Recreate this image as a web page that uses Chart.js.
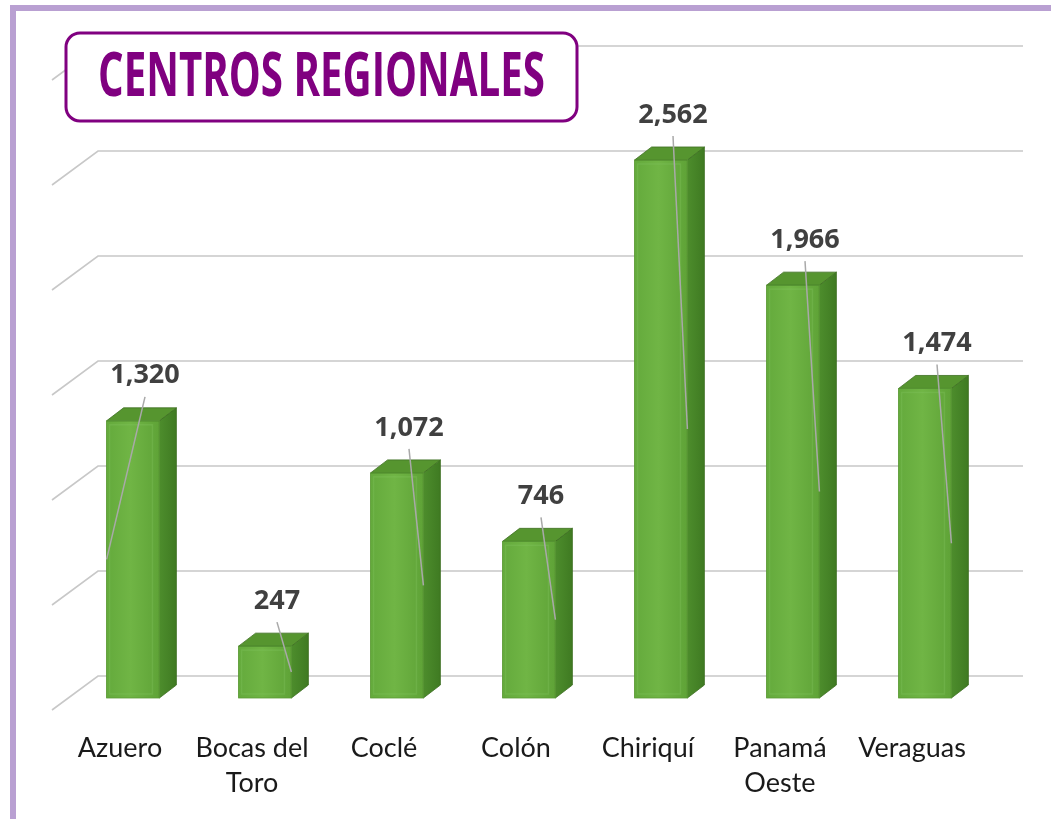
<!DOCTYPE html>
<html>
<head>
<meta charset="utf-8">
<script src="https://cdn.jsdelivr.net/npm/chart.js@4.4.1/dist/chart.umd.min.js"></script>
<style>
  html, body { margin: 0; padding: 0; background: #fff; }
  #wrap { position: relative; width: 1051px; height: 819px; overflow: hidden; }
  #frameL { position: absolute; left: 10px; top: 5px; width: 6px; height: 814px; background: #b9a0d2; }
  #frameT { position: absolute; left: 10px; top: 5px; width: 1041px; height: 6px; background: #b9a0d2; }
  canvas { position: absolute; left: 0; top: 0; }
</style>
</head>
<body>
<div id="wrap">
  <canvas id="c" width="1051" height="819"></canvas>
  <div id="frameL"></div>
  <div id="frameT"></div>
</div>
<script>
const categories = ["Azuero", ["Bocas del", "Toro"], "Coclé", "Colón", "Chiriquí", ["Panamá", "Oeste"], "Veraguas"];
const values = [1320, 247, 1072, 746, 2562, 1966, 1474];
const gridTicks = [0, 500, 1000, 1500, 2000, 2500, 3000];
const titleText = "CENTROS REGIONALES";

const DX = 17, DY = 13;

const threeD = {
  id: 'threeD',
  beforeDatasetsDraw(chart) {
    const ctx = chart.ctx, y = chart.scales.y, a = chart.chartArea;
    ctx.save();
    gridTicks.forEach(v => {
      const yf = y.getPixelForValue(v);
      const yb = yf - 22;
      ctx.strokeStyle = '#c8c8c8';
      ctx.lineWidth = 1.6;
      ctx.beginPath();
      ctx.moveTo(a.left - 15, yf + 12);
      ctx.lineTo(a.left + 31, yb);
      ctx.lineTo(a.right + 32, yb);
      ctx.stroke();
    });
    ctx.restore();
  },
  afterDatasetsDraw(chart) {
    const ctx = chart.ctx;
    const meta = chart.getDatasetMeta(0);
    const yS = chart.scales.y;
    ctx.save();
    meta.data.forEach((bar, i) => {
      const w = bar.width, l = bar.x - w / 2, r = bar.x + w / 2, t = bar.y, b = bar.base;
      const fg = ctx.createLinearGradient(l, 0, r, 0);
      fg.addColorStop(0, '#64aa3c'); fg.addColorStop(0.45, '#70b545'); fg.addColorStop(1, '#5fa337');
      ctx.fillStyle = fg;
      ctx.fillRect(l, t, w, b - t);
      const sg = ctx.createLinearGradient(r, 0, r + DX, 0);
      sg.addColorStop(0, '#4d8d2c'); sg.addColorStop(1, '#3f7a22');
      ctx.fillStyle = sg;
      ctx.beginPath();
      ctx.moveTo(r, t); ctx.lineTo(r + DX, t - DY); ctx.lineTo(r + DX, b - DY); ctx.lineTo(r, b); ctx.closePath();
      ctx.fill();
      ctx.strokeStyle = '#3e6f22'; ctx.lineWidth = 0.8; ctx.stroke();
      ctx.fillStyle = '#56952f';
      ctx.beginPath();
      ctx.moveTo(l, t); ctx.lineTo(l + DX, t - DY); ctx.lineTo(r + DX, t - DY); ctx.lineTo(r, t); ctx.closePath();
      ctx.fill();
      ctx.stroke();
      ctx.strokeStyle = 'rgba(130,195,95,0.35)';
      ctx.lineWidth = 1.5;
      ctx.strokeRect(l + 3, t + 4, w - 10, Math.max(0, b - t - 8));
      ctx.strokeStyle = '#5a9a35'; ctx.lineWidth = 0.8;
      ctx.strokeRect(l, t, w, b - t);
    });
    meta.data.forEach((bar, i) => {
      const w = bar.width;
      const lx = bar.x + 12;
      const ly = bar.y - 45;
      const endY = yS.getPixelForValue(values[i] / 2);
      const endX = i === 0 ? bar.x - w / 2 : bar.x + w / 2;
      ctx.strokeStyle = '#a9a9a9'; ctx.lineWidth = 1.5;
      ctx.beginPath(); ctx.moveTo(lx, ly + 21); ctx.lineTo(endX, endY); ctx.stroke();
      ctx.fillStyle = '#404040';
      ctx.font = 'bold 27px "Open Sans"';
      ctx.textAlign = 'center'; ctx.textBaseline = 'middle';
      ctx.fillText(values[i].toLocaleString('en-US'), lx, ly);
    });
    ctx.restore();
  },
  afterDraw(chart) {
    const ctx = chart.ctx;
    ctx.save();
    const x0 = 66, y0 = 33, x1 = 577, y1 = 121, rad = 14;
    ctx.beginPath();
    ctx.roundRect(x0, y0, x1 - x0, y1 - y0, rad);
    ctx.fillStyle = '#fff'; ctx.fill();
    ctx.strokeStyle = '#800080'; ctx.lineWidth = 3; ctx.stroke();
    ctx.font = 'bold 60px "Open Sans"';
    const m = ctx.measureText(titleText).width;
    const target = 447;
    ctx.translate((x0 + x1) / 2, 79);
    ctx.scale(target / m, 1);
    ctx.fillStyle = '#800080';
    ctx.textAlign = 'center'; ctx.textBaseline = 'middle';
    ctx.fillText(titleText, 0, 0);
    ctx.restore();
  }
};

new Chart(document.getElementById('c'), {
  type: 'bar',
  data: {
    labels: categories,
    datasets: [{
      data: values,
      backgroundColor: '#6aae3f',
      borderWidth: 0,
      barPercentage: 0.4,
      categoryPercentage: 1
    }]
  },
  options: {
    responsive: false,
    animation: false,
    devicePixelRatio: 1,
    layout: { padding: { left: 67, right: 60, top: 68, bottom: 0 } },
    plugins: { legend: { display: false }, tooltip: { enabled: false } },
    scales: {
      y: { display: false, min: 0, max: 3000 },
      x: {
        offset: true,
        grid: { display: false, drawTicks: false },
        border: { display: false },
        afterFit(s) { s.height = 121; },
        ticks: {
          padding: 32,
          labelOffset: -13,
          color: '#1a1a1a',
          font: { family: 'Lato', size: 27, lineHeight: 1.32 },
          maxRotation: 0, autoSkip: false
        }
      }
    }
  },
  plugins: [threeD]
});
</script>
</body>
</html>
